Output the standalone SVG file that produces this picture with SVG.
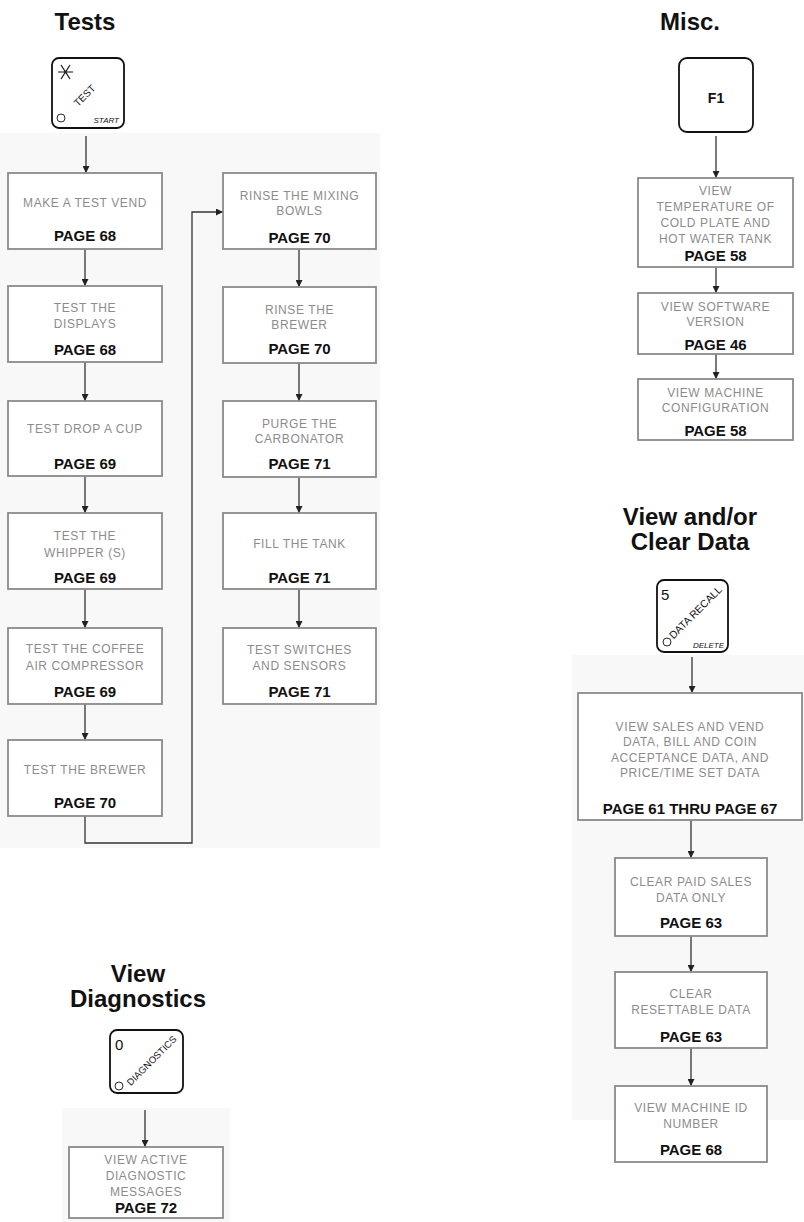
<svg xmlns="http://www.w3.org/2000/svg" width="804" height="1222" viewBox="0 0 804 1222">
<style>
.title{font-family:"Liberation Sans",Arial,sans-serif;font-weight:bold;font-size:24px;fill:#111;text-anchor:middle}
.box{fill:#fff;stroke:#8a8a8a;stroke-width:1.8}
.key{fill:#fff;stroke:#111;stroke-width:1.8}
.desc{font-family:"Liberation Sans",Arial,sans-serif;font-size:12px;fill:#8c8c8c;text-anchor:middle;letter-spacing:0.6px}
.page{font-family:"Liberation Sans",Arial,sans-serif;font-weight:bold;font-size:15px;fill:#111;text-anchor:middle}
.conn{fill:none;stroke:#333;stroke-width:1.3}
.kt{font-family:"Liberation Sans",Arial,sans-serif;fill:#111}
.panel{fill:#f8f8f8}
</style>
<defs>
<marker id="ah" markerWidth="7" markerHeight="7" refX="7" refY="3.5" orient="auto" markerUnits="userSpaceOnUse">
<path d="M0,0 L7,3.5 L0,7 z" fill="#222"/>
</marker>
</defs>

<rect class="panel" x="0" y="133" width="380" height="715"/>
<rect class="panel" x="572" y="655" width="232" height="465"/>
<rect class="panel" x="62" y="1108" width="168" height="114"/>

<text class="title" x="85" y="30">Tests</text>
<text class="title" x="690" y="30">Misc.</text>
<text class="title" x="690" y="525">View and/or</text>
<text class="title" x="690" y="550">Clear Data</text>
<text class="title" x="138" y="982">View</text>
<text class="title" x="138" y="1007">Diagnostics</text>

<g id="connectors">
<line class="conn" x1="86" y1="136" x2="86" y2="173" marker-end="url(#ah)"/>
<line class="conn" x1="85" y1="249" x2="85" y2="286" marker-end="url(#ah)"/>
<line class="conn" x1="85" y1="362" x2="85" y2="401" marker-end="url(#ah)"/>
<line class="conn" x1="85" y1="476" x2="85" y2="513" marker-end="url(#ah)"/>
<line class="conn" x1="85" y1="589" x2="85" y2="628" marker-end="url(#ah)"/>
<line class="conn" x1="85" y1="704" x2="85" y2="740" marker-end="url(#ah)"/>
<polyline class="conn" points="85,816 85,843 192,843 192,212 223,212" marker-end="url(#ah)"/>
<line class="conn" x1="299" y1="249" x2="299" y2="287" marker-end="url(#ah)"/>
<line class="conn" x1="299" y1="363" x2="299" y2="401" marker-end="url(#ah)"/>
<line class="conn" x1="299" y1="477" x2="299" y2="513" marker-end="url(#ah)"/>
<line class="conn" x1="299" y1="589" x2="299" y2="628" marker-end="url(#ah)"/>
<line class="conn" x1="716" y1="136" x2="716" y2="178" marker-end="url(#ah)"/>
<line class="conn" x1="716" y1="267" x2="716" y2="293" marker-end="url(#ah)"/>
<line class="conn" x1="716" y1="354" x2="716" y2="379" marker-end="url(#ah)"/>
<line class="conn" x1="692" y1="657" x2="692" y2="693" marker-end="url(#ah)"/>
<line class="conn" x1="691" y1="820" x2="691" y2="858" marker-end="url(#ah)"/>
<line class="conn" x1="691" y1="936" x2="691" y2="972" marker-end="url(#ah)"/>
<line class="conn" x1="691" y1="1048" x2="691" y2="1086" marker-end="url(#ah)"/>
<line class="conn" x1="145" y1="1110" x2="145" y2="1147" marker-end="url(#ah)"/>
</g>

<g id="key-test">
<rect class="key" x="52" y="58" width="72" height="70" rx="7"/>
<path d="M58,72 L73,72 M61,65 L70,79 M70,65 L61,79" stroke="#111" stroke-width="1.2" fill="none"/>
<text class="kt" x="0" y="0" font-size="10" text-anchor="middle" transform="translate(87,98) rotate(-45)">TEST</text>
<circle cx="61" cy="118" r="4" fill="none" stroke="#111" stroke-width="0.9"/>
<text class="kt" x="119" y="123" font-size="8" font-style="italic" text-anchor="end">START</text>
</g>

<g id="t1"><rect class="box" x="8" y="173" width="154" height="76"/>
<text class="desc" x="85" y="207">MAKE A TEST VEND</text><text class="page" x="85" y="241">PAGE 68</text></g>
<g id="t2"><rect class="box" x="8" y="286" width="154" height="76"/>
<text class="desc" x="85" y="312">TEST THE</text><text class="desc" x="85" y="328">DISPLAYS</text><text class="page" x="85" y="355">PAGE 68</text></g>
<g id="t3"><rect class="box" x="8" y="401" width="154" height="75"/>
<text class="desc" x="85" y="433">TEST DROP A CUP</text><text class="page" x="85" y="469">PAGE 69</text></g>
<g id="t4"><rect class="box" x="8" y="513" width="154" height="76"/>
<text class="desc" x="85" y="540">TEST THE</text><text class="desc" x="85" y="557">WHIPPER (S)</text><text class="page" x="85" y="583">PAGE 69</text></g>
<g id="t5"><rect class="box" x="8" y="628" width="154" height="76"/>
<text class="desc" x="85" y="653">TEST THE COFFEE</text><text class="desc" x="85" y="670">AIR COMPRESSOR</text><text class="page" x="85" y="697">PAGE 69</text></g>
<g id="t6"><rect class="box" x="8" y="740" width="154" height="76"/>
<text class="desc" x="85" y="774">TEST THE BREWER</text><text class="page" x="85" y="808">PAGE 70</text></g>

<g id="r1"><rect class="box" x="223" y="173" width="153" height="76"/>
<text class="desc" x="299.5" y="200">RINSE THE MIXING</text><text class="desc" x="299.5" y="215">BOWLS</text><text class="page" x="299.5" y="243">PAGE 70</text></g>
<g id="r2"><rect class="box" x="223" y="287" width="153" height="76"/>
<text class="desc" x="299.5" y="314">RINSE THE</text><text class="desc" x="299.5" y="329">BREWER</text><text class="page" x="299.5" y="354">PAGE 70</text></g>
<g id="r3"><rect class="box" x="223" y="401" width="153" height="76"/>
<text class="desc" x="299.5" y="428">PURGE THE</text><text class="desc" x="299.5" y="443">CARBONATOR</text><text class="page" x="299.5" y="469">PAGE 71</text></g>
<g id="r4"><rect class="box" x="223" y="513" width="153" height="76"/>
<text class="desc" x="299.5" y="548">FILL THE TANK</text><text class="page" x="299.5" y="583">PAGE 71</text></g>
<g id="r5"><rect class="box" x="223" y="628" width="153" height="76"/>
<text class="desc" x="299.5" y="654">TEST SWITCHES</text><text class="desc" x="299.5" y="670">AND SENSORS</text><text class="page" x="299.5" y="697">PAGE 71</text></g>

<g id="key-f1">
<rect class="key" x="679" y="58" width="74" height="74" rx="8"/>
<text class="kt" x="716" y="103" font-size="14" font-weight="bold" text-anchor="middle">F1</text>
</g>
<g id="m1"><rect class="box" x="638" y="178" width="155" height="89"/>
<text class="desc" x="715.5" y="195">VIEW</text><text class="desc" x="715.5" y="211">TEMPERATURE OF</text><text class="desc" x="715.5" y="227">COLD PLATE AND</text><text class="desc" x="715.5" y="243">HOT WATER TANK</text><text class="page" x="715.5" y="261">PAGE 58</text></g>
<g id="m2"><rect class="box" x="638" y="293" width="155" height="61"/>
<text class="desc" x="715.5" y="311">VIEW SOFTWARE</text><text class="desc" x="715.5" y="326">VERSION</text><text class="page" x="715.5" y="350">PAGE 46</text></g>
<g id="m3"><rect class="box" x="638" y="379" width="155" height="61"/>
<text class="desc" x="715.5" y="397">VIEW MACHINE</text><text class="desc" x="715.5" y="412">CONFIGURATION</text><text class="page" x="715.5" y="436">PAGE 58</text></g>

<g id="key-data">
<rect class="key" x="657" y="580" width="71" height="72" rx="7"/>
<text class="kt" x="661" y="600" font-size="15">5</text>
<text class="kt" x="0" y="0" font-size="10.5" text-anchor="middle" transform="translate(698,615) rotate(-45)">DATA RECALL</text>
<circle cx="667" cy="642" r="4" fill="none" stroke="#111" stroke-width="0.9"/>
<text class="kt" x="724" y="648" font-size="8" font-style="italic" text-anchor="end">DELETE</text>
</g>
<g id="d1"><rect class="box" x="578" y="693" width="224" height="127"/>
<text class="desc" x="690" y="731">VIEW SALES AND VEND</text><text class="desc" x="690" y="746">DATA, BILL AND COIN</text><text class="desc" x="690" y="762">ACCEPTANCE DATA, AND</text><text class="desc" x="690" y="777">PRICE/TIME SET DATA</text><text class="page" x="690" y="814">PAGE 61 THRU PAGE 67</text></g>
<g id="d2"><rect class="box" x="615" y="858" width="152" height="78"/>
<text class="desc" x="691" y="886">CLEAR PAID SALES</text><text class="desc" x="691" y="902">DATA ONLY</text><text class="page" x="691" y="928">PAGE 63</text></g>
<g id="d3"><rect class="box" x="615" y="972" width="152" height="76"/>
<text class="desc" x="691" y="998">CLEAR</text><text class="desc" x="691" y="1014">RESETTABLE DATA</text><text class="page" x="691" y="1042">PAGE 63</text></g>
<g id="d4"><rect class="box" x="615" y="1086" width="152" height="76"/>
<text class="desc" x="691" y="1112">VIEW MACHINE ID</text><text class="desc" x="691" y="1128">NUMBER</text><text class="page" x="691" y="1155">PAGE 68</text></g>

<g id="key-diag">
<rect class="key" x="110" y="1030" width="73" height="63" rx="7"/>
<text class="kt" x="115" y="1050" font-size="15">0</text>
<text class="kt" x="0" y="0" font-size="9.5" text-anchor="middle" transform="translate(154,1063) rotate(-45)">DIAGNOSTICS</text>
<circle cx="119" cy="1086" r="4" fill="none" stroke="#111" stroke-width="0.9"/>
</g>
<g id="diag1"><rect class="box" x="69" y="1147" width="154" height="71"/>
<text class="desc" x="146" y="1164">VIEW ACTIVE</text><text class="desc" x="146" y="1180">DIAGNOSTIC</text><text class="desc" x="146" y="1196">MESSAGES</text><text class="page" x="146" y="1213">PAGE 72</text></g>
</svg>
